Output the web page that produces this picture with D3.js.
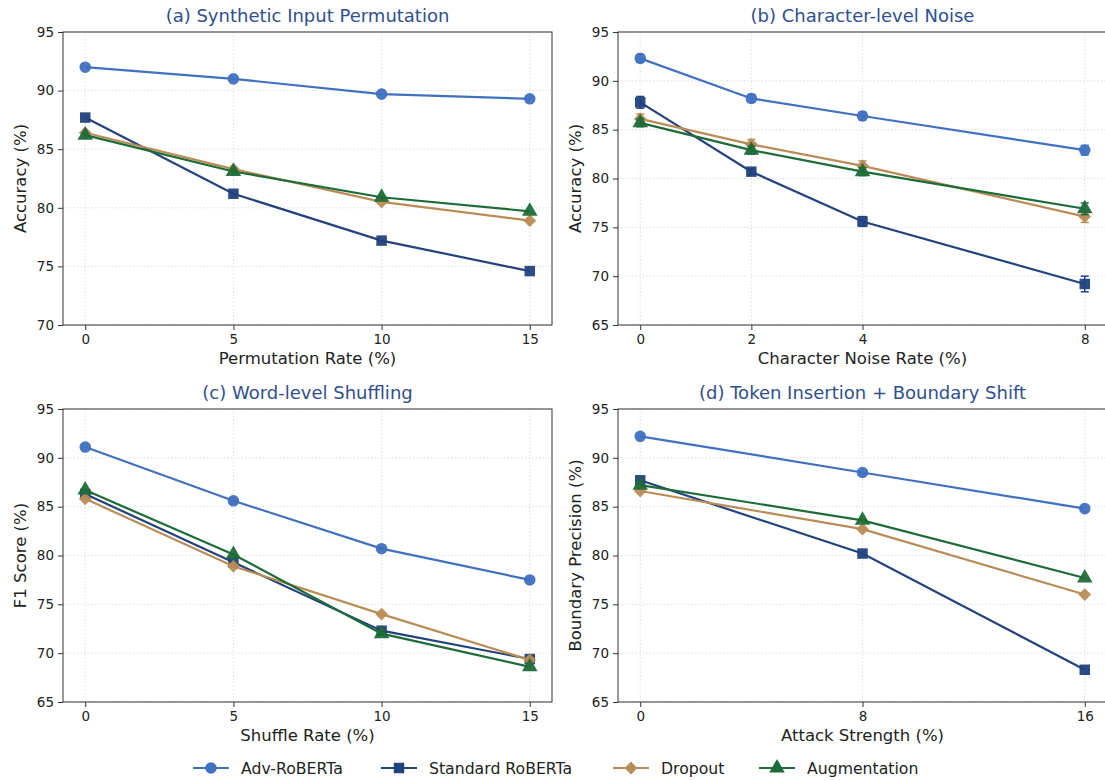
<!DOCTYPE html>
<html>
<head>
<meta charset="utf-8">
<style>
  body { margin: 0; background: #fff; }
  text { font-family: "DejaVu Sans", sans-serif; }
</style>
</head>
<body>
<div id="chart"></div>
<script src="https://cdn.jsdelivr.net/npm/d3@7"></script>
<script>
// series names and colours
var seriesNames = ["Adv-RoBERTa", "Standard RoBERTa", "Dropout", "Augmentation"];
var seriesColors = ["#4070c0", "#22427e", "#b98c55", "#1d6b38"];
var seriesShapes = ["circle", "square", "diamond", "triangle"];

// (a) synthetic input permutation
var xA = [0, 5, 10, 15];
var advA = [92.0, 91.0, 89.7, 89.3];
var stdA = [87.7, 81.2, 77.2, 74.6];
var dropA = [86.4, 83.3, 80.5, 78.9];
var augA = [86.2, 83.1, 80.9, 79.7];

// (b) character-level noise, with error bars
var xB = [0, 2, 4, 8];
var advB = [92.3, 88.2, 86.4, 82.9];
var stdB = [87.8, 80.7, 75.6, 69.2];
var dropB = [86.1, 83.5, 81.3, 76.1];
var augB = [85.7, 82.9, 80.7, 76.9];
var advErrB = [0.4, 0.4, 0.4, 0.5];
var stdErrB = [0.6, 0.3, 0.5, 0.8];
var dropErrB = [0.5, 0.5, 0.5, 0.6];
var augErrB = [0.4, 0.4, 0.4, 0.6];

// (c) word-level shuffling
var xC = [0, 5, 10, 15];
var advC = [91.1, 85.6, 80.7, 77.5];
var stdC = [86.3, 79.3, 72.3, 69.4];
var dropC = [85.8, 78.9, 74.0, 69.3];
var augC = [86.7, 80.1, 72.0, 68.6];

// (d) token insertion + boundary shift
var xD = [0, 8, 16];
var advD = [92.2, 88.5, 84.8];
var stdD = [87.7, 80.2, 68.3];
var dropD = [86.6, 82.7, 76.0];
var augD = [87.2, 83.6, 77.7];

var yTicksA = [70, 75, 80, 85, 90, 95];
var yTicksB = [65, 70, 75, 80, 85, 90, 95];

var panels = [
  { title: "(a) Synthetic Input Permutation", xlabel: "Permutation Rate (%)", ylabel: "Accuracy (%)",
    x: xA, ys: [advA, stdA, dropA, augA], errs: null, ydom: [70, 95], yticks: yTicksA,
    box: [63, 32, 552, 325] },
  { title: "(b) Character-level Noise", xlabel: "Character Noise Rate (%)", ylabel: "Accuracy (%)",
    x: xB, ys: [advB, stdB, dropB, augB], errs: [advErrB, stdErrB, dropErrB, augErrB], ydom: [65, 95], yticks: yTicksB,
    box: [618, 32, 1107, 325] },
  { title: "(c) Word-level Shuffling", xlabel: "Shuffle Rate (%)", ylabel: "F1 Score (%)",
    x: xC, ys: [advC, stdC, dropC, augC], errs: null, ydom: [65, 95], yticks: yTicksB,
    box: [63, 409, 552, 702] },
  { title: "(d) Token Insertion + Boundary Shift", xlabel: "Attack Strength (%)", ylabel: "Boundary Precision (%)",
    x: xD, ys: [advD, stdD, dropD, augD], errs: null, ydom: [65, 95], yticks: yTicksB,
    box: [618, 409, 1107, 702] }
];

var W = 1105, H = 781;
var svg = d3.select("#chart").append("svg").attr("width", W).attr("height", H);

function symbolFor(shape) {
  if (shape === "circle") return d3.symbol().type(d3.symbolCircle).size(105);
  if (shape === "square") return d3.symbol().type(d3.symbolSquare).size(110);
  if (shape === "diamond") return d3.symbol().type(d3.symbolSquare).size(82);
  return d3.symbol().type(d3.symbolTriangle).size(105);
}
function rotFor(shape) { return shape === "diamond" ? " rotate(45)" : ""; }

panels.forEach(function(p) {
  var b = p.box;
  var xmin = d3.min(p.x), xmax = d3.max(p.x), pad = (xmax - xmin) * 0.05;
  var x = d3.scaleLinear().domain([xmin - pad, xmax + pad]).range([b[0], b[2]]);
  var y = d3.scaleLinear().domain(p.ydom).range([b[3], b[1]]);
  var g = svg.append("g");

  // grid
  g.selectAll(".gy").data(p.yticks).enter().append("line")
    .attr("x1", b[0]).attr("x2", b[2]).attr("y1", function(d) { return y(d); }).attr("y2", function(d) { return y(d); })
    .attr("stroke", "#d6d6d6").attr("stroke-width", 0.8).attr("stroke-dasharray", "1.5,2");
  g.selectAll(".gx").data(p.x).enter().append("line")
    .attr("y1", b[1]).attr("y2", b[3]).attr("x1", function(d) { return x(d); }).attr("x2", function(d) { return x(d); })
    .attr("stroke", "#d6d6d6").attr("stroke-width", 0.8).attr("stroke-dasharray", "1.5,2");

  // axes
  var ax = g.append("g").attr("transform", "translate(0," + b[3] + ")")
    .call(d3.axisBottom(x).tickValues(p.x).tickSize(5).tickPadding(4).tickSizeOuter(0));
  var ay = g.append("g").attr("transform", "translate(" + b[0] + ",0)")
    .call(d3.axisLeft(y).tickValues(p.yticks).tickSize(5).tickPadding(4).tickSizeOuter(0));
  [ax, ay].forEach(function(a) {
    a.select(".domain").remove();
    a.selectAll("line").attr("stroke", "#333");
    a.selectAll("text").attr("font-size", 13.5).attr("fill", "#222").attr("font-family", "DejaVu Sans");
  });

  g.append("rect").attr("x", b[0]).attr("y", b[1]).attr("width", b[2] - b[0]).attr("height", b[3] - b[1])
    .attr("fill", "none").attr("stroke", "#333").attr("stroke-width", 1);

  // series
  p.ys.forEach(function(vals, si) {
    var col = seriesColors[si];
    var pts = p.x.map(function(xv, i) { return [xv, vals[i]]; });
    g.append("path").datum(pts)
      .attr("d", d3.line().x(function(d) { return x(d[0]); }).y(function(d) { return y(d[1]); }))
      .attr("fill", "none").attr("stroke", col).attr("stroke-width", 2.2);
    if (p.errs) {
      var e = p.errs[si];
      pts.forEach(function(d, i) {
        var cx = x(d[0]), y1 = y(d[1] - e[i]), y2 = y(d[1] + e[i]);
        g.append("line").attr("x1", cx).attr("x2", cx).attr("y1", y1).attr("y2", y2).attr("stroke", col).attr("stroke-width", 1.5);
        g.append("line").attr("x1", cx - 4).attr("x2", cx + 4).attr("y1", y1).attr("y2", y1).attr("stroke", col).attr("stroke-width", 1.5);
        g.append("line").attr("x1", cx - 4).attr("x2", cx + 4).attr("y1", y2).attr("y2", y2).attr("stroke", col).attr("stroke-width", 1.5);
      });
    }
    g.selectAll(null).data(pts).enter().append("path")
      .attr("d", symbolFor(seriesShapes[si]))
      .attr("transform", function(d) { return "translate(" + x(d[0]) + "," + y(d[1]) + ")" + rotFor(seriesShapes[si]); })
      .attr("fill", col).attr("opacity", 0.95);
  });

  // labels
  svg.append("text").attr("x", (b[0] + b[2]) / 2).attr("y", b[1] - 10).attr("text-anchor", "middle")
    .attr("font-size", 18).attr("fill", "#2f4f8f").text(p.title);
  svg.append("text").attr("x", (b[0] + b[2]) / 2).attr("y", b[3] + 39).attr("text-anchor", "middle")
    .attr("font-size", 16.5).attr("fill", "#222").text(p.xlabel);
  svg.append("text").attr("transform", "translate(" + (b[0] - 37) + "," + ((b[1] + b[3]) / 2) + ") rotate(-90)")
    .attr("text-anchor", "middle").attr("font-size", 16.5).attr("fill", "#222").text(p.ylabel);
});

// legend
var legendX = [193, 381, 613, 759];
var legendY = 768;
seriesNames.forEach(function(name, i) {
  var lg = svg.append("g").attr("transform", "translate(" + legendX[i] + "," + legendY + ")");
  lg.append("line").attr("x1", 0).attr("x2", 36).attr("y1", 0).attr("y2", 0)
    .attr("stroke", seriesColors[i]).attr("stroke-width", 2.2);
  lg.append("path").attr("d", symbolFor(seriesShapes[i])).attr("transform", "translate(18,0)" + rotFor(seriesShapes[i])).attr("fill", seriesColors[i]);
  lg.append("text").attr("x", 48).attr("y", 6).attr("font-size", 15.7).attr("fill", "#222").text(name);
});
</script>
</body>
</html>
